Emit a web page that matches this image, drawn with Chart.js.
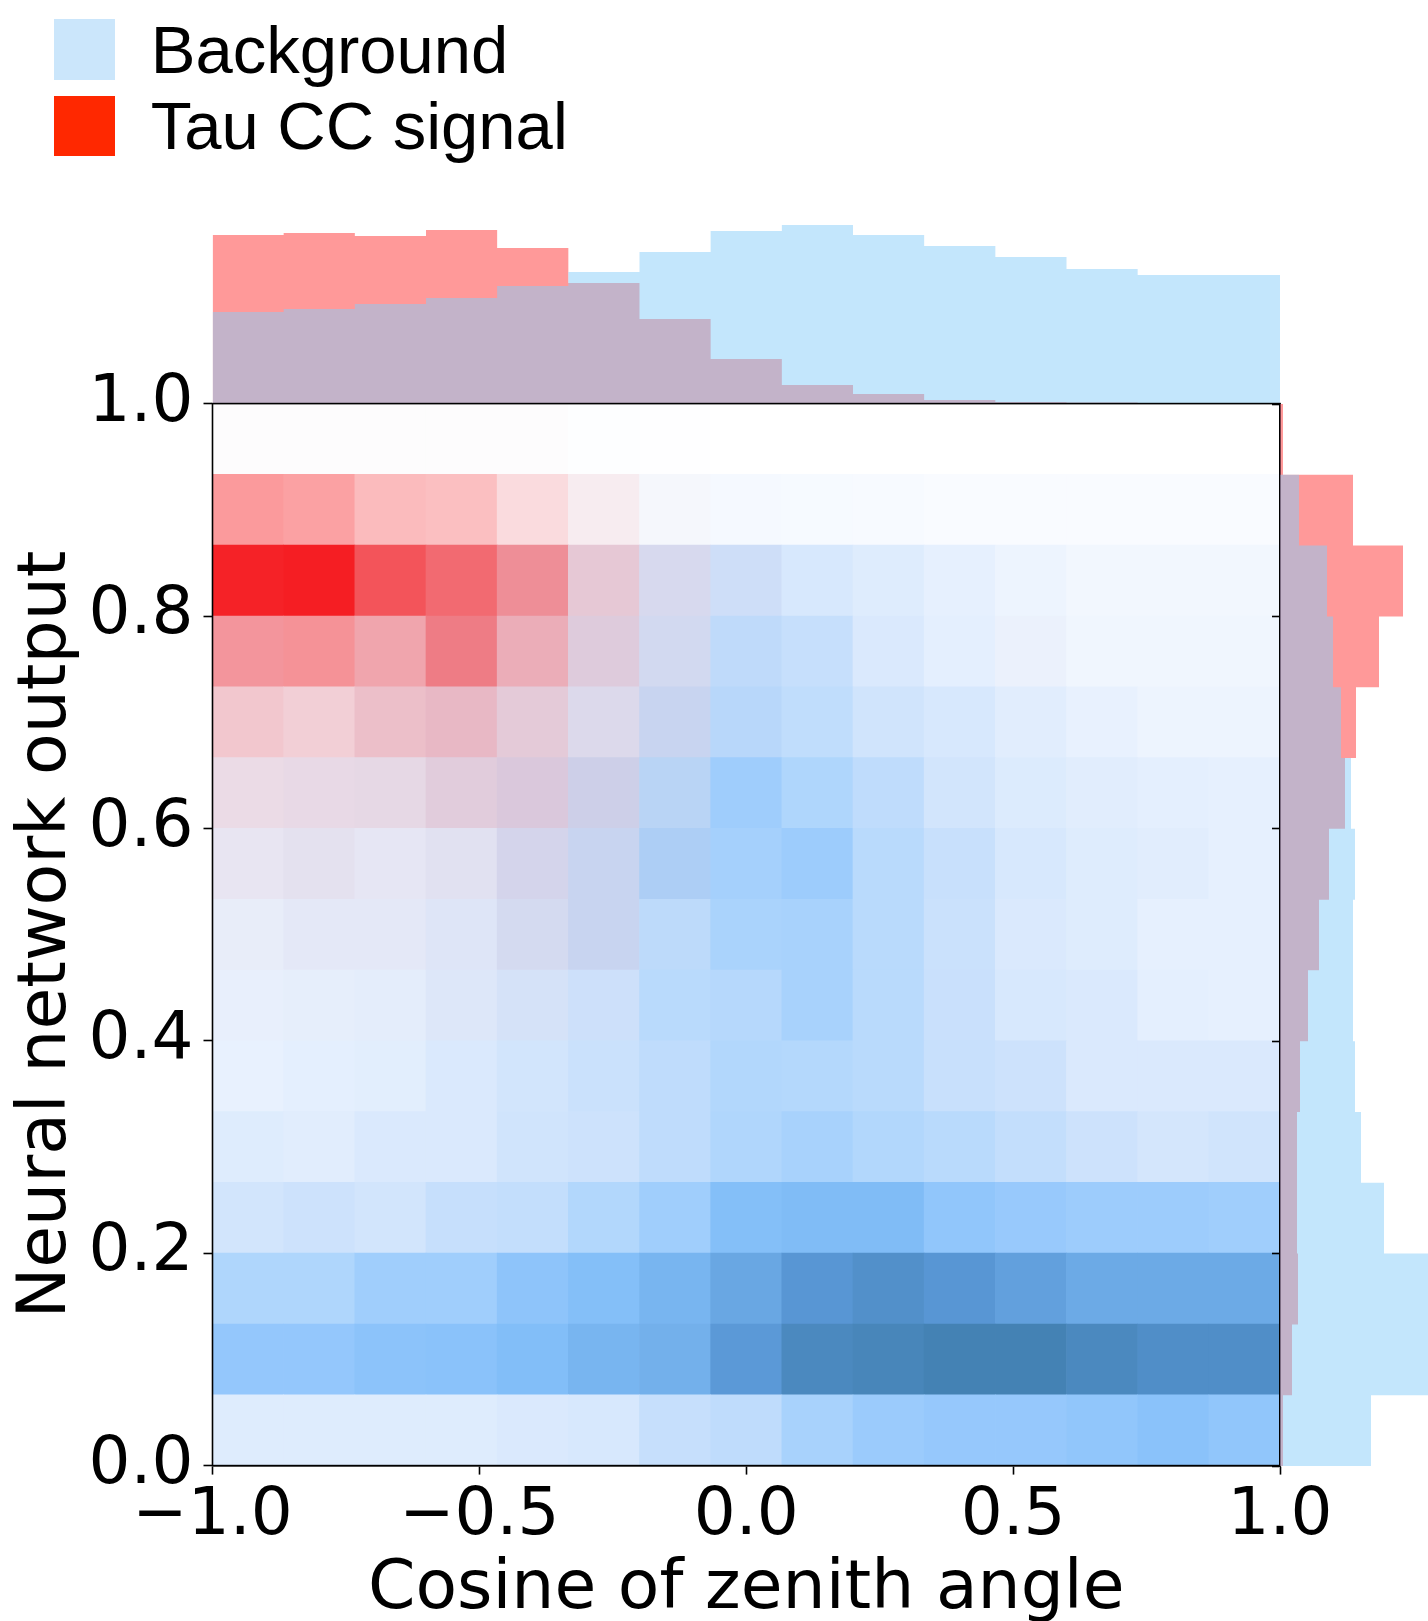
<!DOCTYPE html>
<html>
<head>
<meta charset="utf-8">
<script src="https://cdn.jsdelivr.net/npm/chart.js@4.4.1/dist/chart.umd.min.js"></script>
<style>
  html, body { margin: 0; padding: 0; background: #fff; }
  body { width: 1428px; height: 1621px; position: relative; overflow: hidden; }
  canvas { position: absolute; }
  #topHist { left: 0; top: 203.6px; z-index: 1; }
  #heatmap { left: 0; top: 0; z-index: 2; }
  #sideHist { left: 1270px; top: 393.6px; z-index: 3; }
  #legend { position: absolute; left: 54px; top: 11.5px; z-index: 4;
    font-family: "Liberation Sans", Arial, sans-serif; font-size: 67px; color: #000; }
  .legend-item { display: flex; align-items: center; height: 76.4px; line-height: 76px; }
  .legend-box { width: 60.7px; height: 60.7px; margin-right: 36px; }
</style>
</head>
<body>
<div id="legend"></div>
<canvas id="topHist" width="1428" height="200"></canvas>
<canvas id="heatmap" width="1428" height="1621"></canvas>
<canvas id="sideHist" width="158" height="1082"></canvas>
<script>
// bins and ticks
const xEdges = [-1, -0.8667, -0.7333, -0.6, -0.4667, -0.3333, -0.2, -0.0667, 0.0667, 0.2, 0.3333, 0.4667, 0.6, 0.7333, 0.8667, 1];
const yEdges = [0, 0.0667, 0.1333, 0.2, 0.2667, 0.3333, 0.4, 0.4667, 0.5333, 0.6, 0.6667, 0.7333, 0.8, 0.8667, 0.9333, 1];
const xTicks = [-1, -0.5, 0, 0.5, 1];
const yTicks = [0, 0.2, 0.4, 0.6, 0.8, 1];
const seriesNames = ['Background', 'Tau CC signal'];

// marginal histograms (relative density)
const topBackground = [0.92, 0.95, 1.00, 1.06, 1.18, 1.32, 1.52, 1.73, 1.79, 1.69, 1.58, 1.47, 1.35, 1.29, 1.29];
const topSignal = [1.69, 1.71, 1.68, 1.74, 1.56, 1.21, 0.85, 0.45, 0.19, 0.10, 0.04, 0.02, 0.015, 0.01, 0.01];
// side histogram, from output 0 upward
const sideBackground = [0.91, 2.30, 1.80, 1.04, 0.81, 0.75, 0.73, 0.73, 0.75, 0.71, 0.61, 0.53, 0.47, 0.19, 0.005];
const sideSignal = [0.03, 0.12, 0.18, 0.17, 0.17, 0.20, 0.28, 0.39, 0.49, 0.65, 0.76, 0.99, 1.23, 0.73, 0.03];

// 2D histogram, rows from output 0 upward, relative intensity 0..1
const bgGrid = [
  [0.165, 0.165, 0.165, 0.165, 0.185, 0.2, 0.29, 0.33, 0.455, 0.525, 0.55, 0.55, 0.575, 0.61, 0.575],
  [0.56, 0.56, 0.6, 0.61, 0.65, 0.695, 0.72, 0.85, 0.955, 0.975, 1.0, 1.0, 0.955, 0.92, 0.92],
  [0.415, 0.415, 0.495, 0.495, 0.59, 0.64, 0.695, 0.77, 0.87, 0.91, 0.87, 0.81, 0.75, 0.75, 0.75],
  [0.225, 0.25, 0.225, 0.29, 0.305, 0.4, 0.495, 0.64, 0.66, 0.66, 0.575, 0.54, 0.51, 0.51, 0.495],
  [0.165, 0.15, 0.185, 0.185, 0.235, 0.25, 0.33, 0.41, 0.455, 0.4, 0.36, 0.305, 0.25, 0.215, 0.235],
  [0.115, 0.135, 0.145, 0.185, 0.225, 0.265, 0.33, 0.4, 0.39, 0.36, 0.28, 0.25, 0.185, 0.185, 0.185],
  [0.115, 0.125, 0.135, 0.17, 0.215, 0.25, 0.36, 0.38, 0.455, 0.36, 0.275, 0.2, 0.185, 0.135, 0.125],
  [0.115, 0.14, 0.14, 0.17, 0.225, 0.295, 0.34, 0.445, 0.455, 0.36, 0.265, 0.185, 0.165, 0.125, 0.125],
  [0.12, 0.14, 0.13, 0.155, 0.23, 0.295, 0.44, 0.47, 0.51, 0.36, 0.28, 0.2, 0.165, 0.15, 0.125],
  [0.105, 0.125, 0.135, 0.17, 0.21, 0.27, 0.37, 0.5, 0.415, 0.33, 0.225, 0.175, 0.15, 0.135, 0.125],
  [0.07, 0.07, 0.11, 0.14, 0.155, 0.185, 0.295, 0.37, 0.32, 0.235, 0.2, 0.15, 0.115, 0.09, 0.09],
  [0.07, 0.05, 0.09, 0.13, 0.125, 0.185, 0.235, 0.33, 0.29, 0.185, 0.135, 0.1, 0.075, 0.075, 0.075],
  [0.05, 0.05, 0.09, 0.09, 0.115, 0.14, 0.21, 0.25, 0.2, 0.165, 0.125, 0.09, 0.065, 0.065, 0.065],
  [0.0, 0.0, 0.01, 0.01, 0.02, 0.04, 0.05, 0.05, 0.045, 0.04, 0.03, 0.03, 0.03, 0.03, 0.03],
  [0.01, 0.01, 0.01, 0.01, 0.01, 0.01, 0.005, 0, 0, 0, 0, 0, 0, 0, 0]
];
const sigGrid = [
  [0, 0, 0, 0, 0, 0, 0, 0, 0, 0, 0, 0, 0, 0, 0],
  [0, 0, 0, 0, 0, 0, 0, 0, 0, 0, 0, 0, 0, 0, 0],
  [0, 0, 0, 0, 0, 0, 0, 0, 0, 0, 0, 0, 0, 0, 0],
  [0, 0, 0, 0, 0, 0, 0, 0, 0, 0, 0, 0, 0, 0, 0],
  [0, 0, 0, 0, 0, 0, 0, 0, 0, 0, 0, 0, 0, 0, 0],
  [0, 0, 0, 0, 0, 0, 0, 0, 0, 0, 0, 0, 0, 0, 0],
  [0.01, 0.01, 0.01, 0.02, 0.02, 0.01, 0, 0, 0, 0, 0, 0, 0, 0, 0],
  [0.02, 0.03, 0.03, 0.03, 0.055, 0.055, 0.01, 0, 0, 0, 0, 0, 0, 0, 0],
  [0.055, 0.065, 0.045, 0.055, 0.08, 0.055, 0.03, 0, 0, 0, 0, 0, 0, 0, 0],
  [0.11, 0.11, 0.11, 0.15, 0.15, 0.09, 0.03, 0, 0, 0, 0, 0, 0, 0, 0],
  [0.22, 0.185, 0.24, 0.26, 0.17, 0.08, 0.055, 0.01, 0, 0, 0, 0, 0, 0, 0],
  [0.45, 0.47, 0.37, 0.55, 0.32, 0.15, 0.055, 0.01, 0, 0, 0, 0.01, 0, 0, 0],
  [0.98, 1.0, 0.75, 0.645, 0.47, 0.185, 0.065, 0.02, 0, 0, 0, 0, 0, 0, 0],
  [0.45, 0.42, 0.3, 0.28, 0.15, 0.065, 0.01, 0, 0, 0, 0, 0, 0, 0, 0],
  [0.01, 0.01, 0.01, 0.01, 0.01, 0, 0, 0, 0, 0, 0, 0, 0, 0, 0]
];

// colours
const bgFill = 'rgba(135, 206, 250, 0.5)';
const sigFill = 'rgba(255, 0, 0, 0.4)';
const legendColors = ['rgb(203, 230, 251)', 'rgb(255, 40, 0)'];
const blueRamp = [
  [0, 255, 255, 255], [0.1, 235, 243, 254], [0.25, 205, 226, 252], [0.4, 178, 215, 252],
  [0.55, 150, 200, 252], [0.65, 130, 190, 248], [0.75, 108, 170, 230], [0.87, 88, 150, 212],
  [1.0, 68, 130, 180]
];
const tauRed = [245, 30, 35];

function cellColor(bg, sig) {
  let c = blueRamp[blueRamp.length - 1].slice(1);
  for (let k = 1; k < blueRamp.length; k++) {
    if (bg <= blueRamp[k][0]) {
      const a = blueRamp[k - 1], b = blueRamp[k];
      const t = (bg - a[0]) / (b[0] - a[0]);
      c = [1, 2, 3].map(i => a[i] + (b[i] - a[i]) * t);
      break;
    }
  }
  const mixed = c.map((v, i) => Math.round(v * (1 - sig) + tauRed[i] * sig));
  return 'rgb(' + mixed.join(',') + ')';
}

// histogram outline points for a stepped filled line
function stepPoints(values, edges, sideways) {
  const pts = values.map((v, i) => sideways ? { x: v, y: edges[i] } : { x: edges[i], y: v });
  const last = values[values.length - 1];
  const end = edges[edges.length - 1];
  pts.push(sideways ? { x: last, y: end } : { x: end, y: last });
  return pts;
}

const tickFont = { family: 'DejaVu Sans', size: 66 };
const titleFont = { family: 'DejaVu Sans', size: 68, lineHeight: 1 };
const noPlugins = { legend: { display: false }, tooltip: { enabled: false } };

// Legend
const legendDiv = document.getElementById('legend');
seriesNames.forEach((name, i) => {
  const item = document.createElement('div');
  item.className = 'legend-item';
  const box = document.createElement('div');
  box.className = 'legend-box';
  box.style.background = legendColors[i];
  const label = document.createElement('span');
  label.textContent = name;
  item.appendChild(box);
  item.appendChild(label);
  legendDiv.appendChild(item);
});

// Top marginal
new Chart(document.getElementById('topHist'), {
  type: 'line',
  data: {
    datasets: [
      { label: seriesNames[0], data: stepPoints(topBackground, xEdges, false), backgroundColor: bgFill },
      { label: seriesNames[1], data: stepPoints(topSignal, xEdges, false), backgroundColor: sigFill }
    ].map(ds => Object.assign(ds, { stepped: 'before', fill: 'origin', borderWidth: 0,
      borderColor: 'rgba(0,0,0,0)', pointRadius: 0, pointHoverRadius: 0, pointBorderWidth: 0 }))
  },
  options: {
    responsive: false, animation: false,
    layout: { autoPadding: false, padding: { left: 212.5, right: 148, top: 0, bottom: 0 } },
    plugins: noPlugins,
    scales: {
      x: { type: 'linear', min: -1, max: 1, display: false },
      y: { type: 'linear', min: 0, max: 2, display: false }
    }
  }
});

// Main 2D histogram
const heatDatasets = bgGrid.map((row, i) => ({
  data: row.map((_, j) => ({ x: (xEdges[j] + xEdges[j + 1]) / 2, y: [yEdges[i], yEdges[i + 1]] })),
  backgroundColor: row.map((v, j) => cellColor(v, sigGrid[i][j])),
  borderWidth: 0,
  barPercentage: 1,
  categoryPercentage: 1,
  grouped: false
}));

const framePlugin = {
  id: 'frame',
  afterDraw(chart) {
    const { ctx, chartArea: a } = chart;
    ctx.save();
    ctx.strokeStyle = '#000';
    ctx.lineWidth = 1.6;
    ctx.strokeRect(a.left, a.top, a.right - a.left, a.bottom - a.top);
    ctx.restore();
  }
};

new Chart(document.getElementById('heatmap'), {
  type: 'bar',
  data: { datasets: heatDatasets },
  options: {
    responsive: false, animation: false,
    layout: { padding: { top: 403.6, right: 148, bottom: 0, left: 0 } },
    plugins: noPlugins,
    scales: {
      x: {
        type: 'linear', min: -1, max: 1, offset: false,
        afterBuildTicks: s => { s.ticks = xTicks.map(v => ({ value: v })); },
        afterFit: s => { s.height = 155.4; },
        ticks: {
          callback: v => (v < 0 ? '\u2212' : '') + Math.abs(v).toFixed(1),
          font: tickFont, color: '#000', padding: 3, maxRotation: 0, autoSkip: false
        },
        grid: { drawOnChartArea: false, offset: false, tickLength: 9, tickWidth: 1.6, tickColor: '#000' },
        border: { color: '#000', width: 1.6 },
        title: { display: true, text: 'Cosine of zenith angle', font: titleFont, color: '#000', padding: { top: 0, bottom: -3 } }
      },
      y: {
        type: 'linear', min: 0, max: 1,
        afterBuildTicks: s => { s.ticks = yTicks.map(v => ({ value: v })); },
        afterFit: s => { s.width = 212.5; },
        ticks: { callback: v => v.toFixed(1), font: tickFont, color: '#000', padding: 10, autoSkip: false },
        grid: { drawOnChartArea: false, tickLength: 9, tickWidth: 1.6, tickColor: '#000' },
        border: { color: '#000', width: 1.6 },
        title: { display: true, text: 'Neural network output', font: titleFont, color: '#000', padding: { top: 13, bottom: 0 } }
      }
    }
  },
  plugins: [framePlugin]
});

// Side marginal
new Chart(document.getElementById('sideHist'), {
  type: 'line',
  data: {
    datasets: [
      { label: seriesNames[0], data: stepPoints(sideBackground, yEdges, true), backgroundColor: bgFill },
      { label: seriesNames[1], data: stepPoints(sideSignal, yEdges, true), backgroundColor: sigFill }
    ].map(ds => Object.assign(ds, { stepped: 'after', fill: 'origin', borderWidth: 0,
      borderColor: 'rgba(0,0,0,0)', pointRadius: 0, pointHoverRadius: 0, pointBorderWidth: 0 }))
  },
  options: {
    indexAxis: 'y',
    responsive: false, animation: false,
    layout: { autoPadding: false, padding: { left: 0, right: 0, top: 10, bottom: 10 } },
    plugins: noPlugins,
    scales: {
      x: { type: 'linear', min: 0, max: 1.48, display: false },
      y: {
        type: 'linear', min: 0, max: 1, position: 'left',
        afterBuildTicks: s => { s.ticks = yTicks.map(v => ({ value: v })); },
        afterFit: s => { s.width = 10; },
        ticks: { display: false },
        grid: { drawOnChartArea: false, tickLength: 8, tickWidth: 1.6, tickColor: '#000' },
        border: { color: '#000', width: 1.6 }
      }
    }
  }
});
</script>
</body>
</html>
